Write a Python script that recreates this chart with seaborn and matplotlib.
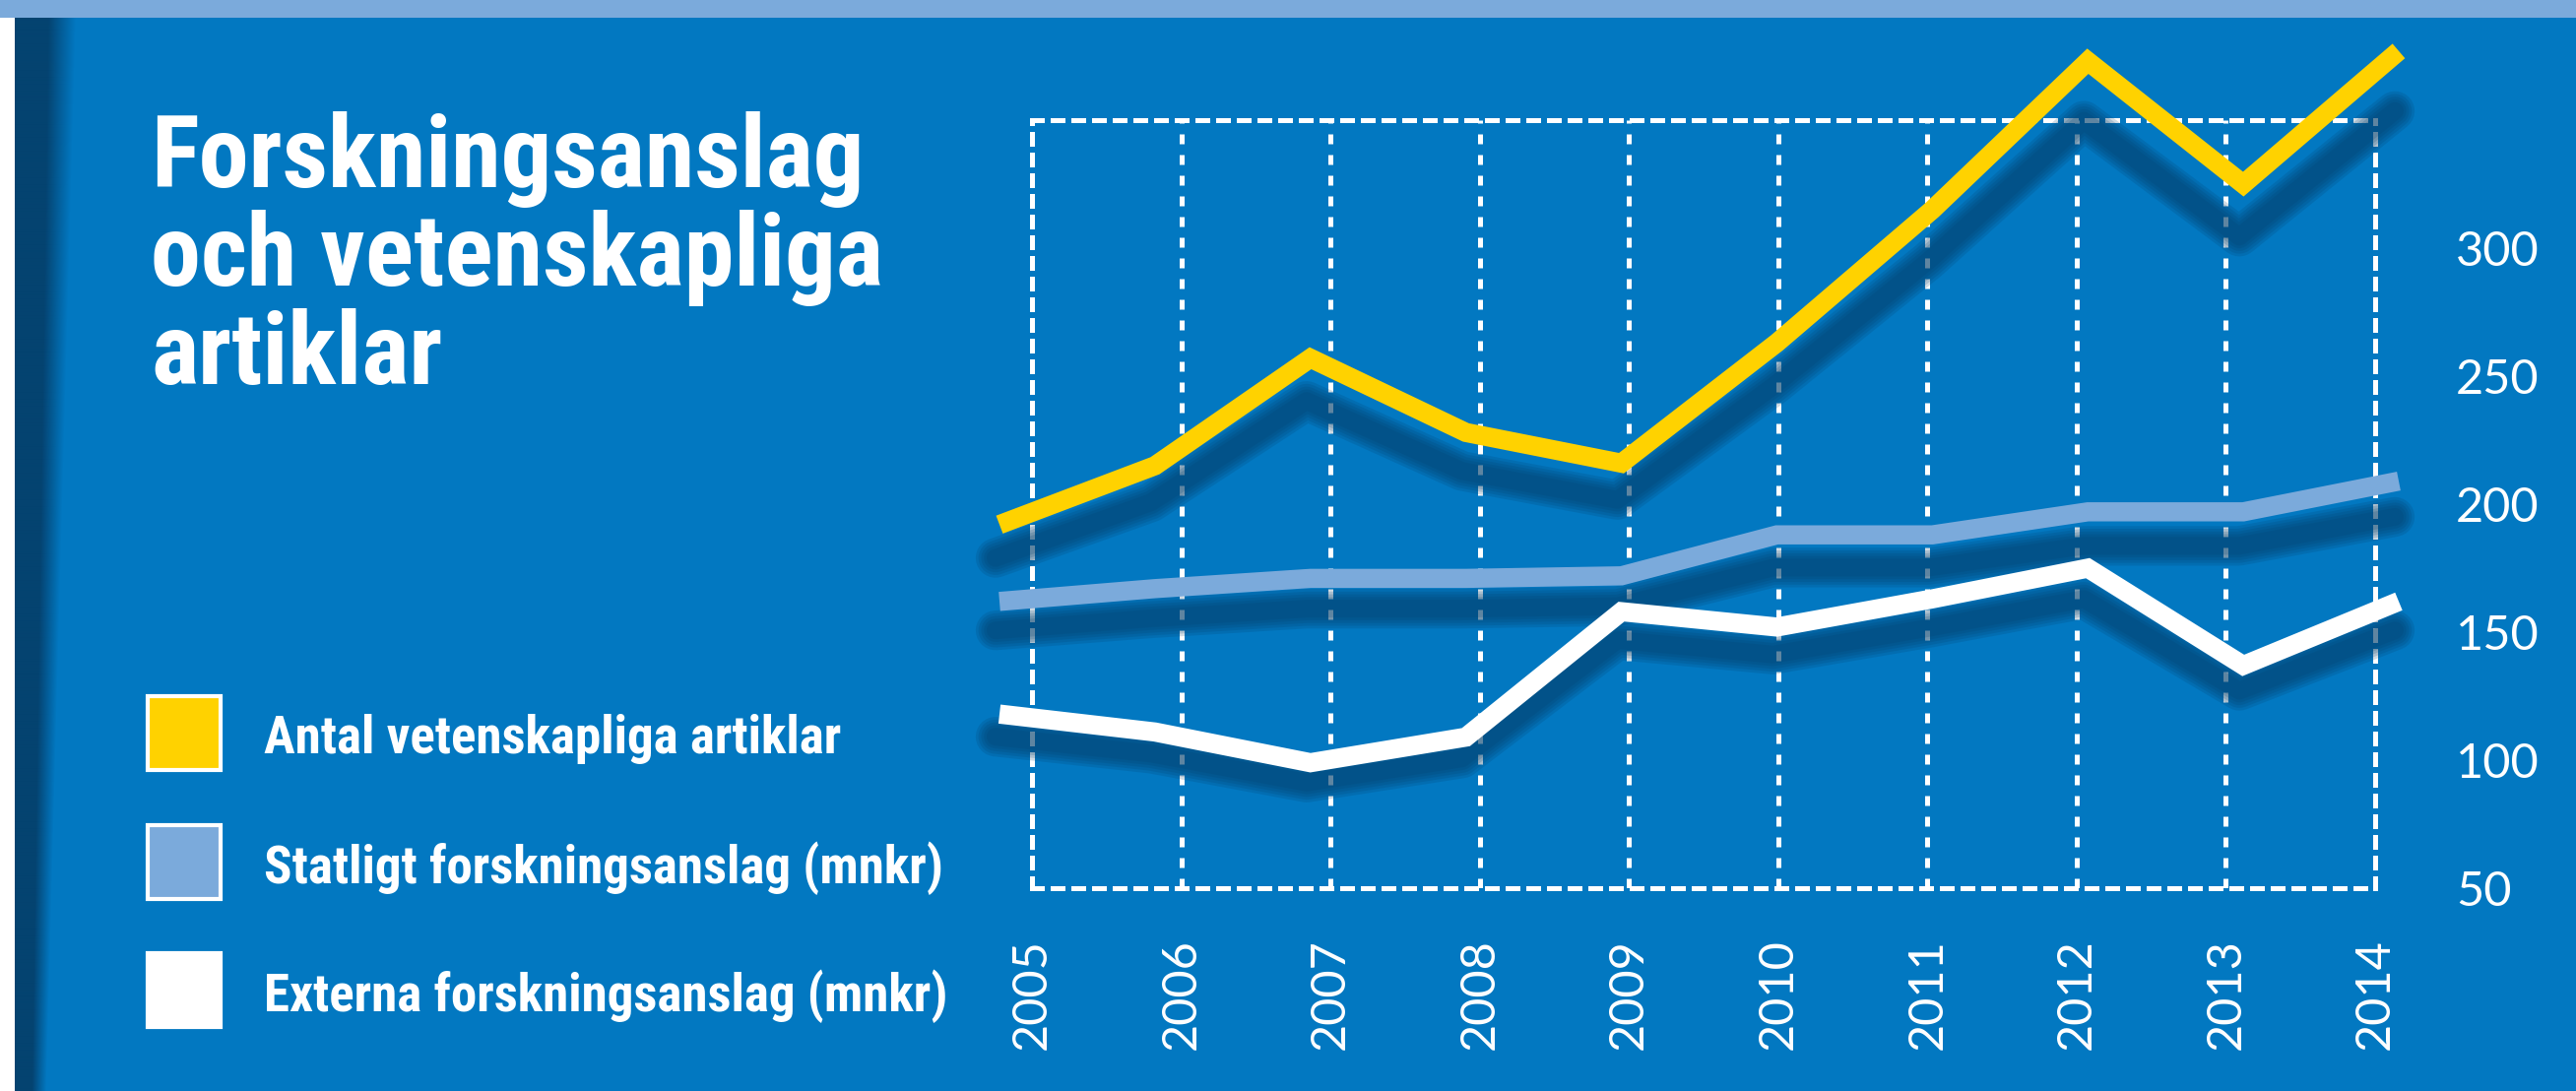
import numpy as np
import pandas as pd
import seaborn as sns
import matplotlib.pyplot as plt
import matplotlib.patheffects as pe
from matplotlib.patches import Rectangle
from matplotlib.colors import to_rgb
from matplotlib import font_manager

# data
years = [2005, 2006, 2007, 2008, 2009, 2010, 2011, 2012, 2013, 2014]
artiklar = [192, 215, 257, 228, 216, 263, 315, 373, 325, 377]
statligt = [162, 167, 171, 171, 172, 188, 188, 197, 197, 209]
externa = [118, 111, 99, 109, 158, 152, 163, 175, 137, 162]
series_names = ["Antal vetenskapliga artiklar",
                "Statligt forskningsanslag (mnkr)",
                "Externa forskningsanslag (mnkr)"]
y_ticks = [50, 100, 150, 200, 250, 300]
title_lines = ["Forskningsanslag", "och vetenskapliga", "artiklar"]

BLUE = "#0278C1"
YELLOW = "#FFD200"
LIGHT = "#7BAADB"
NAVY = "#05406C"
W, H = 2616, 1108


def fx(px):
    return px / W


def fy(py):
    return 1 - py / H


def narrow_bold_family():
    # a condensed bold face if one is installed, else plain Liberation Sans
    found = {}
    for f in font_manager.fontManager.ttflist:
        key = (f.name + " " + f.fname).lower()
        if "narrow" in key or "condensed" in key or str(f.stretch) in ("condensed", "semi-condensed"):
            found.setdefault(f.name, f)
    for pref in ["Liberation Sans Narrow", "Roboto Condensed", "Open Sans Condensed",
                 "DejaVu Sans Condensed", "DejaVu Sans"]:
        if pref in found:
            return found[pref].name, found[pref].stretch
    return "Liberation Sans", "normal"


def fit_text(fig, renderer, x, base, s, size, width, family, stretch, max_size):
    # scale a label so that it is as wide as in the reference
    t = fig.text(fx(x), fy(base), s, color="white", fontsize=size, fontweight="bold",
                 family=[family, "DejaVu Sans"], fontstretch=stretch, va="baseline")
    w = t.get_window_extent(renderer).width
    t.set_fontsize(min(size * width / w, max_size))
    return t


def main():
    sns.set_theme(style="white", context="paper")
    names = {f.name for f in font_manager.fontManager.ttflist}
    tickfont = "Lato" if "Lato" in names else "DejaVu Sans"
    plt.rcParams["font.family"] = [tickfont, "DejaVu Sans"]
    narrow, stretch = narrow_bold_family()

    df = pd.DataFrame({
        "år": years * 3,
        "värde": artiklar + statligt + externa,
        "serie": [n for n in series_names for _ in years],
    })
    palette = dict(zip(series_names, [YELLOW, LIGHT, "white"]))

    fig = plt.figure(figsize=(W / 100, H / 100), dpi=100, facecolor=BLUE)
    renderer = fig.canvas.get_renderer()

    # frame decoration: light band on top, white strip and dark fold on the left
    fig.add_artist(Rectangle((0, fy(18)), 1, 18 / H, transform=fig.transFigure,
                             facecolor=LIGHT, edgecolor="none"))
    fig.add_artist(Rectangle((0, 0), fx(15), fy(18), transform=fig.transFigure,
                             facecolor="white", edgecolor="none"))
    gh, gw = 540, 80
    rows = np.linspace(0, 1, gh)[:, None]
    cols = np.arange(gw)[None, :] + 0.5
    width = 62 - 30 * rows
    rgba = np.zeros((gh, gw, 4))
    rgba[..., :3] = to_rgb(NAVY)
    rgba[..., 3] = np.clip((width - cols) / (0.45 * width), 0, 1) * 0.95
    gax = fig.add_axes([fx(15), 0, fx(gw), fy(18)])
    gax.imshow(rgba, aspect="auto", interpolation="bilinear")
    gax.axis("off")

    # grid axes: dotted frame, year gridlines, tick labels
    ax = fig.add_axes([fx(1048), fy(902), fx(2412 - 1048), (902 - 122) / H])
    ax.set_facecolor("none")
    ax.set_xlim(2005, 2014)
    ax.set_ylim(50, 350)
    dots = (0, (2.0, 2.2))
    for s in ax.spines.values():
        s.set_visible(True)
        s.set_color("white")
        s.set_linewidth(3.6)
        s.set_linestyle(dots)
    ax.set_xticks(years)
    ax.set_xticklabels([str(y) for y in years])
    ax.set_yticks(y_ticks)
    ax.yaxis.tick_right()
    ax.tick_params(axis="x", length=0, pad=37, labelrotation=90,
                   labelsize=35, labelcolor="white")
    ax.tick_params(axis="y", length=0, pad=59, labelsize=35, labelcolor="white")
    ax.grid(axis="x", color="white", lw=3.6, ls=dots)
    ax.grid(axis="y", visible=False)
    ax.set(xlabel="", ylabel="")

    # soft drop shadow of the lines
    sax = fig.add_axes([fx(1011), fy(915), fx(1421), (915 - 179) / H])
    sax.set_xlim(2005, 2014)
    sax.set_ylim(50, 350)
    sax.axis("off")
    blur = [pe.Stroke(linewidth=w, foreground=NAVY, alpha=0.18, joinstyle="round")
            for w in (29, 25, 21, 17, 13)]
    sns.lineplot(data=df, x="år", y="värde", hue="serie", hue_order=series_names,
                 palette={n: NAVY for n in series_names}, errorbar=None,
                 legend=False, ax=sax, lw=13, clip_on=False, path_effects=blur)

    # the lines themselves
    lax = fig.add_axes([fx(1015), fy(902), fx(1421), (902 - 122) / H])
    lax.set_xlim(2005, 2014)
    lax.set_ylim(50, 350)
    lax.axis("off")
    sns.lineplot(data=df, x="år", y="värde", hue="serie", hue_order=series_names,
                 palette=palette, errorbar=None, legend=False, ax=lax, lw=14,
                 clip_on=False, solid_joinstyle="miter", solid_capstyle="butt")

    # title, all three lines at the size that makes the first one 725 px wide
    title_texts = [fit_text(fig, renderer, 153, base, line, 70, 725, narrow, stretch, 76)
                   for line, base in zip(title_lines, [190, 290, 390])]
    tsize = title_texts[0].get_fontsize()
    for t in title_texts[1:]:
        t.set_fontsize(tsize)

    # legend
    legend_texts = []
    for name, col, top, base, wref in zip(series_names, [YELLOW, LIGHT, "white"],
                                          [707, 838, 968], [765, 897, 1027],
                                          [600, 690, 705]):
        fig.add_artist(Rectangle((fx(150), fy(top + 75)), 74 / W, 75 / H,
                                 transform=fig.transFigure, facecolor=col,
                                 edgecolor="white", lw=3))
        legend_texts.append(fit_text(fig, renderer, 268, base, name, 38, wref,
                                     narrow, stretch, 41))
    small = min(t.get_fontsize() for t in legend_texts)
    for t in legend_texts:
        t.set_fontsize(small)

    fig.savefig("out.png", dpi=100, facecolor=BLUE)


if __name__ == "__main__":
    main()
